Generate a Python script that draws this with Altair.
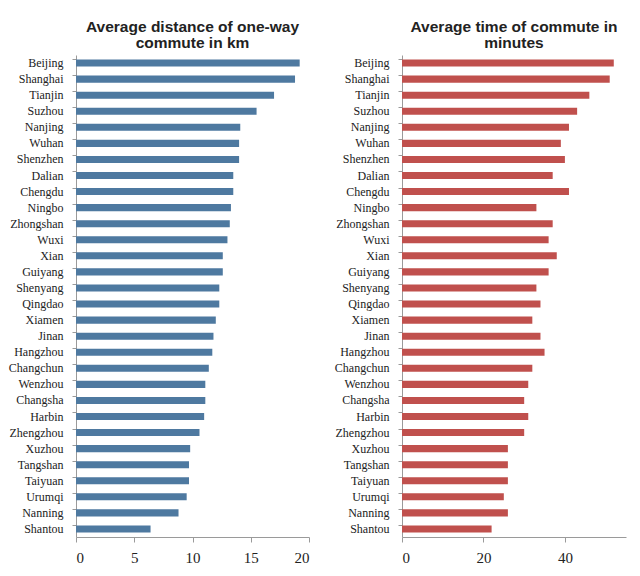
import altair as alt
import pandas as pd

cities = ["Beijing", "Shanghai", "Tianjin", "Suzhou", "Nanjing", "Wuhan", "Shenzhen",
          "Dalian", "Chengdu", "Ningbo", "Zhongshan", "Wuxi", "Xian", "Guiyang",
          "Shenyang", "Qingdao", "Xiamen", "Jinan", "Hangzhou", "Changchun",
          "Wenzhou", "Changsha", "Harbin", "Zhengzhou", "Xuzhou", "Tangshan",
          "Taiyuan", "Urumqi", "Nanning", "Shantou"]
distance_km = [19.2, 18.8, 17.0, 15.5, 14.1, 14.0, 14.0, 13.5, 13.5, 13.3, 13.2, 13.0,
               12.6, 12.6, 12.3, 12.3, 12.0, 11.8, 11.7, 11.4, 11.1, 11.1, 11.0, 10.6,
               9.8, 9.7, 9.7, 9.5, 8.8, 6.4]
time_min = [52, 51, 46, 43, 41, 39, 40, 37, 41, 33, 37, 36, 38, 36, 33, 34, 32, 34, 35,
            32, 31, 30, 31, 30, 26, 26, 26, 25, 26, 22]

df = pd.DataFrame({"city": cities, "distance": distance_km, "time": time_min})

AXIS_GREY = "#9a9a9a"


def panel(field, color, title, domain, ticks, width):
    return alt.Chart(df).mark_bar(color=color).encode(
        y=alt.Y("city:N", sort=cities, title=None,
                scale=alt.Scale(paddingInner=0.56, paddingOuter=0.28),
                axis=alt.Axis(bandPosition=0, tickSize=4, tickColor=AXIS_GREY,
                              domainColor=AXIS_GREY, labelFont="Liberation Serif",
                              labelFontSize=12, labelColor="#222222", labelPadding=9,
                              minExtent=67, maxExtent=67)),
        x=alt.X(f"{field}:Q", title=None,
                scale=alt.Scale(domain=domain, nice=False),
                axis=alt.Axis(values=ticks, grid=False, tickSize=5, tickColor=AXIS_GREY,
                              domainColor=AXIS_GREY, labelFont="Liberation Serif",
                              labelFontSize=15, labelColor="#222222", labelPadding=8)),
    ).properties(
        width=width, height=482,
        title=alt.TitleParams(title, font="Liberation Sans", fontSize=15.5,
                              fontWeight="bold", color="#222222", lineHeight=15.5,
                              offset=4, anchor="middle"),
    )


left = panel("distance", "#4E79A0", ["Average distance of one-way", "commute in km"],
             [0, 20], [0, 5, 10, 15, 20], 233)
right = panel("time", "#C0504D", ["Average time of commute in", "minutes"],
              [0, 55], [0, 20, 40], 224)

chart = alt.hconcat(left, right, spacing=24).configure_view(stroke=None).properties(
    padding={"left": 0, "top": 12, "right": 2, "bottom": 0}
)

chart.save("out.html", embed_options={"renderer": "svg", "actions": False})
